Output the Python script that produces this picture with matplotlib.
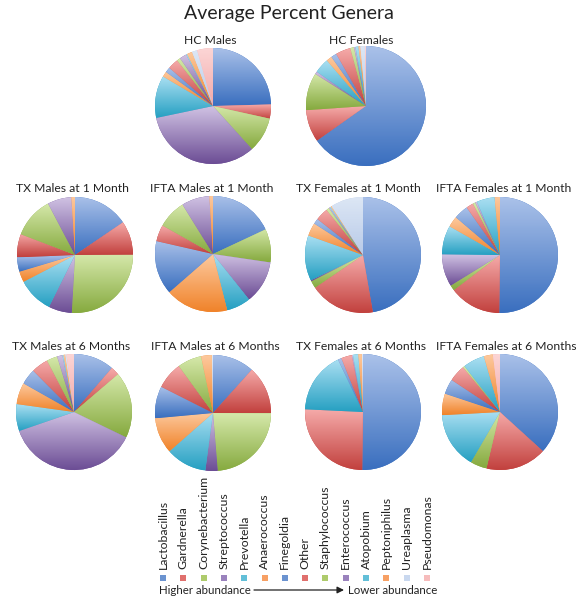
import numpy as np
import matplotlib
matplotlib.use("Agg")
import matplotlib.pyplot as plt
from matplotlib.colors import to_rgb, LinearSegmentedColormap
from matplotlib.patches import Rectangle, FancyArrowPatch

plt.rcParams['font.family'] = ['Lato', 'DejaVu Sans']

genera = ['Lactobacillus', 'Gardnerella', 'Corynebacterium', 'Streptococcus',
          'Prevotella', 'Anaerococcus', 'Finegoldia', 'Other', 'Staphylococcus',
          'Enterococcus', 'Atopobium', 'Peptoniphilus', 'Ureaplasma', 'Pseudomonas']

hc_males        = [25, 4, 10, 34, 12, 1.5, 1.5, 3, 1, 2, 0.3, 1.5, 1.5, 4.5]
hc_females      = [64.7, 8.6, 10, 0.7, 4, 1.5, 1.5, 4, 1, 0.4, 0.8, 0.5, 1.2, 0.3]
tx_males_1m     = [15.5, 9.5, 26, 6.5, 10, 3, 4, 6.5, 11.5, 6.7, 0, 1, 0, 0]
ifta_males_1m   = [18, 0, 9.3, 12, 6.7, 17.5, 15, 4.6, 8, 7.8, 0, 1, 0, 0]
tx_females_1m   = [46.7, 18, 2, 0.3, 12.5, 3.6, 1.5, 3.5, 0.8, 0.3, 0.3, 0.3, 9, 0]
ifta_females_1m = [50, 14.4, 1.5, 9, 8, 3, 4, 2, 0.7, 0.5, 5, 1.5, 0, 0]
tx_males_6m     = [11.3, 2.4, 18.5, 37.5, 7.5, 6, 4.4, 4.7, 3, 1.5, 0.3, 0.5, 0.3, 2.1]
ifta_males_6m   = [11.6, 13.4, 23.6, 3.4, 11.4, 10, 8.9, 7.5, 6.7, 0, 0, 3, 0.3, 0]
tx_females_6m   = [50.3, 25.6, 0, 0, 17.2, 0, 1, 3, 0, 0.3, 1.5, 1, 0.3, 0]
ifta_females_6m = [36.8, 17, 4.6, 0, 15.8, 6, 4.2, 4.7, 0.5, 0, 6, 2.5, 0, 2]

titles = ['HC Males', 'HC Females',
          'TX Males at 1 Month', 'IFTA Males at 1 Month',
          'TX Females at 1 Month', 'IFTA Females at 1 Month',
          'TX Males at 6 Months', 'IFTA Males at 6 Months',
          'TX Females at 6 Months', 'IFTA Females at 6 Months']
series = [hc_males, hc_females, tx_males_1m, ifta_males_1m, tx_females_1m,
          ifta_females_1m, tx_males_6m, ifta_males_6m, tx_females_6m, ifta_females_6m]

# gradient colours (top, bottom) per genus
blue = ('#aac1e9', '#3a6fbf')
red = ('#f5aaa9', '#c2413e')
green = ('#d5e8aa', '#86aa3f')
purple = ('#d0c2e3', '#6c4d95')
cyan = ('#aadff2', '#26a0c2')
orange = ('#fdc99e', '#f0832a')
grad = [blue, red, green, purple, cyan, orange,
        blue, red, green, purple, cyan, orange,
        ('#dde7f5', '#b8cae8'), ('#fcd6d6', '#f2a9a9')]
legend_cols = ['#6b93d0', '#e0706d', '#aecb6c', '#9a82bd', '#62bfd8', '#f7a064',
               '#6b93d0', '#e0706d', '#aecb6c', '#9a82bd', '#62bfd8', '#f7a064',
               '#c9d8ef', '#f6bcbc']

W, H = 584, 600
fig = plt.figure(figsize=(W / 100, H / 100), dpi=100)

centers = [(213, 106), (366, 106),
           (75, 255), (213, 254), (363, 255), (500, 255),
           (74, 412), (213, 413), (363, 412), (500, 412)]
radii = [58, 60, 58, 58, 58, 58, 58, 58, 58, 58]
title_pos = [(210, 40), (361, 40),
             (72, 188), (212, 188), (358, 188), (504, 188),
             (71, 347), (215, 347), (361, 347), (506, 347)]
HALF = 62.0

for vals, (cx, cy), R, title, (tx, ty) in zip(series, centers, radii, titles, title_pos):
    ax = fig.add_axes([(cx - HALF) / W, 1 - (cy + HALF) / H, 2 * HALF / W, 2 * HALF / H])
    lim = HALF / R
    wedges, _ = ax.pie(vals, startangle=90, counterclock=False, radius=1.0,
                       colors=[g[1] for g in grad],
                       wedgeprops=dict(linewidth=0))
    for w, v, g in zip(wedges, vals, grad):
        if v <= 0:
            continue
        t = np.radians(np.linspace(w.theta1, w.theta2, 60))
        xs = np.concatenate([[0], np.cos(t)])
        ys = np.concatenate([[0], np.sin(t)])
        cmap = LinearSegmentedColormap.from_list('g', [to_rgb(g[1]), to_rgb(g[0])])
        arr = np.linspace(0, 1, 64).reshape(-1, 1)
        im = ax.imshow(arr, cmap=cmap, origin='lower', aspect='auto',
                       extent=[xs.min(), xs.max() + 1e-6, ys.min(), ys.max() + 1e-6],
                       interpolation='bilinear', zorder=2)
        im.set_clip_path(w)
    ax.set_xlim(-lim, lim)
    ax.set_ylim(-lim, lim)
    ax.set_aspect('equal')
    ax.set_xticks([])
    ax.set_yticks([])
    for s in ax.spines.values():
        s.set_color('#dadada')
        s.set_linewidth(0.8)
    fig.text(tx / W, 1 - ty / H, title, ha='center', va='center', fontsize=8.7, color='#222222')

fig.text(289 / W, 1 - 14 / H, 'Average Percent Genera', ha='center', va='center',
         fontsize=14, color='#222222')

# legend
x0, dx = 163, 20.3
for i, (name, col) in enumerate(zip(genera, legend_cols)):
    x = x0 + i * dx
    fig.text(x / W, 1 - 569 / H, name, rotation=90, ha='center', va='bottom',
             fontsize=8.8, color='#222222')
    fig.patches.append(Rectangle(((x - 3) / W, 1 - 581 / H), 6 / W, 6 / H,
                                 transform=fig.transFigure, facecolor=col,
                                 edgecolor='none'))

fig.text(159 / W, 1 - 590 / H, 'Higher abundance', ha='left', va='center',
         fontsize=8.3, color='#222222')
fig.text(348 / W, 1 - 590 / H, 'Lower abundance', ha='left', va='center',
         fontsize=8.3, color='#222222')
arrow = FancyArrowPatch((254 / W, 1 - 590 / H), (344 / W, 1 - 590 / H),
                        transform=fig.transFigure, arrowstyle='-|>',
                        mutation_scale=10, color='#222222', linewidth=0.9,
                        shrinkA=0, shrinkB=0)
fig.patches.append(arrow)

fig.savefig('out.png', dpi=100)
